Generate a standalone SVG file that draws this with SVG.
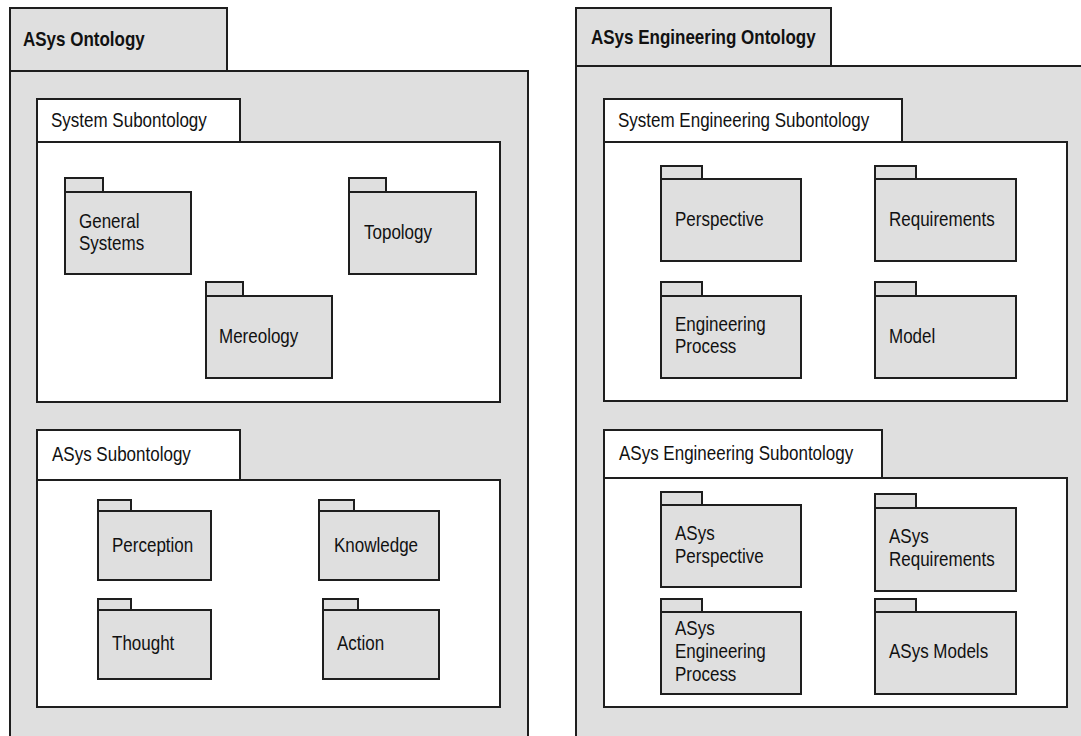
<svg xmlns="http://www.w3.org/2000/svg" width="1081" height="736" viewBox="0 0 1081 736">
<style>
.g{fill:#dfdfdf;stroke:#1e1e1e;stroke-width:2}
.w{fill:#ffffff;stroke:#1e1e1e;stroke-width:2}
.t{font-family:"Liberation Sans",Arial,sans-serif;font-size:20px;fill:#111}
.b{font-weight:bold}
</style>
<rect x="0" y="0" width="1081" height="736" fill="#ffffff"/>
<g id="asys-ontology">
<rect class="g" x="10" y="8" width="217" height="63"/>
<rect class="g" x="10" y="71" width="518" height="680"/>
<text class="t b" transform="matrix(0.85 0 0 1 23 46)">ASys Ontology</text>
</g>
<g id="system-subontology">
<rect class="w" x="37" y="99" width="203" height="43"/>
<rect class="w" x="37" y="142" width="463" height="260"/>
<text class="t" transform="matrix(0.85 0 0 1 51 127)">System Subontology</text>
</g>
<g id="general-systems">
<rect class="g" x="65" y="178" width="38" height="14"/>
<rect class="g" x="65" y="192" width="126" height="82"/>
<text class="t" transform="matrix(0.85 0 0 1 79 228)">General</text>
<text class="t" transform="matrix(0.85 0 0 1 79 250)">Systems</text>
</g>
<g id="topology">
<rect class="g" x="349" y="178" width="37" height="14"/>
<rect class="g" x="349" y="192" width="127" height="82"/>
<text class="t" transform="matrix(0.85 0 0 1 364 239)">Topology</text>
</g>
<g id="mereology">
<rect class="g" x="206" y="282" width="37" height="14"/>
<rect class="g" x="206" y="296" width="126" height="82"/>
<text class="t" transform="matrix(0.85 0 0 1 219 343)">Mereology</text>
</g>
<g id="asys-subontology">
<rect class="w" x="37" y="430" width="203" height="50"/>
<rect class="w" x="37" y="480" width="463" height="227"/>
<text class="t" transform="matrix(0.85 0 0 1 52 461)">ASys Subontology</text>
</g>
<g id="perception">
<rect class="g" x="98" y="500" width="33" height="11"/>
<rect class="g" x="98" y="511" width="113" height="69"/>
<text class="t" transform="matrix(0.85 0 0 1 112 552)">Perception</text>
</g>
<g id="knowledge">
<rect class="g" x="319" y="500" width="35" height="11"/>
<rect class="g" x="319" y="511" width="120" height="69"/>
<text class="t" transform="matrix(0.85 0 0 1 334 552)">Knowledge</text>
</g>
<g id="thought">
<rect class="g" x="98" y="599" width="33" height="11"/>
<rect class="g" x="98" y="610" width="113" height="69"/>
<text class="t" transform="matrix(0.85 0 0 1 112 650)">Thought</text>
</g>
<g id="action">
<rect class="g" x="323" y="599" width="35" height="11"/>
<rect class="g" x="323" y="610" width="116" height="69"/>
<text class="t" transform="matrix(0.85 0 0 1 337 650)">Action</text>
</g>
<g id="asys-engineering-ontology">
<rect class="g" x="576" y="8" width="255" height="58"/>
<rect class="g" x="576" y="66" width="520" height="690"/>
<text class="t b" transform="matrix(0.85 0 0 1 591 44)">ASys Engineering Ontology</text>
</g>
<g id="system-engineering-subontology">
<rect class="w" x="604" y="99" width="298" height="43"/>
<rect class="w" x="604" y="142" width="463" height="259"/>
<text class="t" transform="matrix(0.85 0 0 1 618 127)">System Engineering Subontology</text>
</g>
<g id="perspective">
<rect class="g" x="661" y="166" width="41" height="13"/>
<rect class="g" x="661" y="179" width="140" height="82"/>
<text class="t" transform="matrix(0.85 0 0 1 675 226)">Perspective</text>
</g>
<g id="requirements">
<rect class="g" x="875" y="166" width="41" height="13"/>
<rect class="g" x="875" y="179" width="141" height="82"/>
<text class="t" transform="matrix(0.85 0 0 1 889 226)">Requirements</text>
</g>
<g id="engineering-process">
<rect class="g" x="661" y="282" width="41" height="14"/>
<rect class="g" x="661" y="296" width="140" height="82"/>
<text class="t" transform="matrix(0.85 0 0 1 675 331)">Engineering</text>
<text class="t" transform="matrix(0.85 0 0 1 675 353)">Process</text>
</g>
<g id="model">
<rect class="g" x="875" y="282" width="41" height="14"/>
<rect class="g" x="875" y="296" width="141" height="82"/>
<text class="t" transform="matrix(0.85 0 0 1 889 343)">Model</text>
</g>
<g id="asys-engineering-subontology">
<rect class="w" x="604" y="430" width="278" height="48"/>
<rect class="w" x="604" y="478" width="463" height="229"/>
<text class="t" transform="matrix(0.85 0 0 1 619 460)">ASys Engineering Subontology</text>
</g>
<g id="asys-perspective">
<rect class="g" x="661" y="492" width="41" height="13"/>
<rect class="g" x="661" y="505" width="140" height="82"/>
<text class="t" transform="matrix(0.85 0 0 1 675 540)">ASys</text>
<text class="t" transform="matrix(0.85 0 0 1 675 563)">Perspective</text>
</g>
<g id="asys-requirements">
<rect class="g" x="875" y="494" width="41" height="14"/>
<rect class="g" x="875" y="508" width="141" height="83"/>
<text class="t" transform="matrix(0.85 0 0 1 889 543)">ASys</text>
<text class="t" transform="matrix(0.85 0 0 1 889 566)">Requirements</text>
</g>
<g id="asys-engineering-process">
<rect class="g" x="661" y="599" width="41" height="13"/>
<rect class="g" x="661" y="612" width="140" height="82"/>
<text class="t" transform="matrix(0.85 0 0 1 675 635)">ASys</text>
<text class="t" transform="matrix(0.85 0 0 1 675 658)">Engineering</text>
<text class="t" transform="matrix(0.85 0 0 1 675 681)">Process</text>
</g>
<g id="asys-models">
<rect class="g" x="875" y="599" width="41" height="13"/>
<rect class="g" x="875" y="612" width="141" height="82"/>
<text class="t" transform="matrix(0.85 0 0 1 889 658)">ASys Models</text>
</g>
<g id="connectors"></g>
</svg>
